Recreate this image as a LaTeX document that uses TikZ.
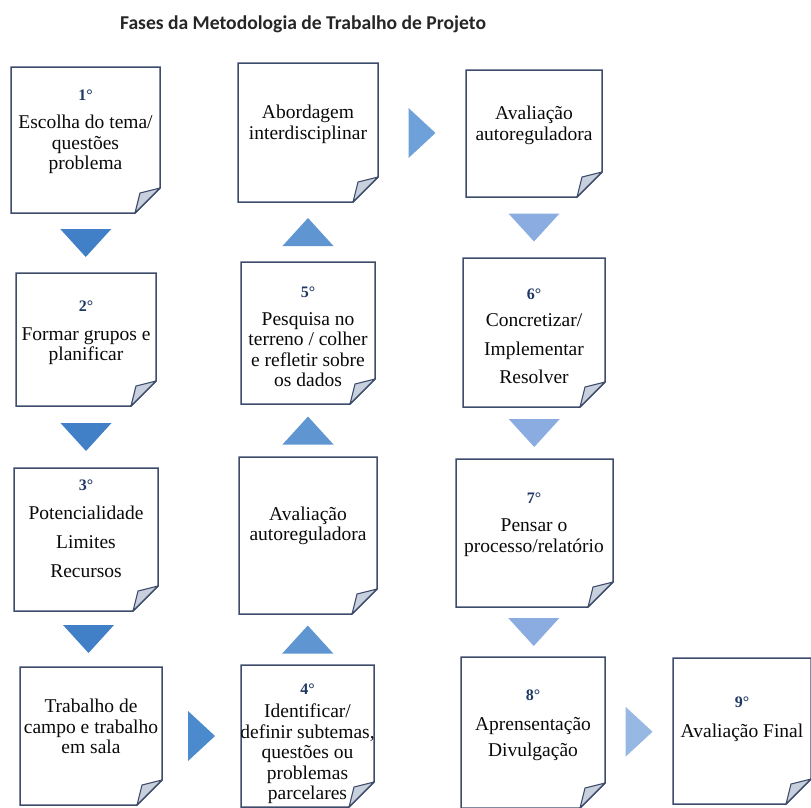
\documentclass[tikz,border=0pt]{standalone}
\usepackage{fontspec}
\setmainfont{Liberation Serif}
\newfontfamily\bodyfont{Liberation Serif}
\newfontfamily\titlefont{Carlito}
\usetikzlibrary{calc}
\definecolor{boxc}{RGB}{62,76,108}
\definecolor{foldc}{RGB}{200,208,222}
\definecolor{numc}{RGB}{31,56,100}
\definecolor{arrL}{RGB}{65,128,199}
\definecolor{arrM}{RGB}{95,150,210}
\definecolor{arrR}{RGB}{138,172,224}
\definecolor{arrA}{RGB}{110,160,218}
\definecolor{arrT}{RGB}{75,138,204}
\definecolor{arrF}{RGB}{152,184,228}
\definecolor{txtc}{RGB}{10,10,10}
\tikzset{
  boxshape/.style={inner sep=0pt, outer sep=0pt, draw=none},
  boxline/.style={draw=boxc, line width=1.5pt, fill=white, line join=miter},
  foldline/.style={draw=boxc, line width=1.1pt, fill=foldc, line join=round},
  txt/.style={align=center, text=txtc, inner sep=0pt, font=\bodyfont\fontsize{19.5}{20.5}\selectfont},
  ttl/.style={anchor=base, text=black!85, inner sep=0pt, font=\titlefont\fontsize{19.6}{22}\selectfont\bfseries}
}
\newcommand\nm[1]{{\bodyfont\fontsize{16}{20.5}\selectfont\bfseries\color{numc}#1}}
% name, left, top, right, bottom
\newcommand\docbox[5]{%
  \node[boxshape, minimum width={#4-#2}, minimum height={#5-#3}] (#1) at ({(#2+#4)/2},{(#3+#5)/2}) {};
  \draw[boxline] (#1.north west) -- (#1.north east) -- ([yshift=25pt]#1.south east) -- ([xshift=-25pt]#1.south east) -- (#1.south west) -- cycle;
  \filldraw[foldline] ([yshift=25pt]#1.south east) -- ([xshift=-20pt,yshift=20pt]#1.south east) -- ([xshift=-25pt]#1.south east) -- cycle;
}
\newcommand\downtri[4]{% name, upper box, lower box, colour
  \coordinate (#1) at ($(#2.south)!0.5!(#3.north)$);
  \fill[#4] ($(#1)+(-25.5,-14)$) -- ($(#1)+(25.5,-14)$) -- ($(#1)+(0,14)$) -- cycle;}
\newcommand\uptri[4]{% name, lower box, upper box, colour
  \coordinate (#1) at ($(#2.north)!0.5!(#3.south)$);
  \fill[#4] ($(#1)+(-25.5,14)$) -- ($(#1)+(25.5,14)$) -- ($(#1)+(0,-14)$) -- cycle;}
\newcommand\righttri[4]{% name, left box, right box, colour
  \coordinate (#1) at ($(#2.east)!0.5!(#3.west)$);
  \fill[#4] ($(#1)+(-13.5,-25)$) -- ($(#1)+(-13.5,25)$) -- ($(#1)+(13.5,0)$) -- cycle;}
\begin{document}
\begin{tikzpicture}[x=1pt,y=-1pt]
\fill[white] (0,0) rectangle (811,807);
\useasboundingbox (0,0) rectangle (811,807);

\node[ttl] (title) at (303,29) {Fases da Metodologia de Trabalho de Projeto};

% boxes
\docbox{b1}{11}{67}{160}{213}
\docbox{b2}{16}{273}{156}{406}
\docbox{b3}{14}{468}{158}{611}
\docbox{bT}{20}{667}{162}{805}
\docbox{b4}{241}{665}{374}{807}
\docbox{bAm}{239}{457}{377}{614}
\docbox{b5}{241}{262}{375}{404}
\docbox{bA}{238}{63}{378}{202}
\docbox{bAt}{466}{70}{602}{197}
\docbox{b6}{463}{258}{605}{407}
\docbox{b7}{456}{459}{613}{607}
\docbox{b8}{461}{657}{605}{808}
\docbox{b9}{673}{658}{811}{804}

% texts
\node[txt] (t1) at (85.5,132) {\nm{1°}\\[7.5pt]Escolha do tema/\\questões\\problema};
\node[txt] (t2) at (86,333) {\nm{2°}\\[8pt]Formar grupos e\\planificar};
\node[txt] (t3) at (86,528.5) {\nm{3°}\\[9pt]Potencialidade\\[8.5pt]Limites\\[8pt]Recursos};
\node[txt] (tT) at (91,726.5) {Trabalho de\\campo e trabalho\\em sala};
\node[txt] (t4) at (307.5,743.5) {\nm{4°}\\[3pt]Identificar/\\definir subtemas,\\questões ou\\problemas\\parcelares};
\node[txt] (tAm) at (308,526) {Avaliação\\autoreguladora};
\node[txt] (t5) at (308,337) {\nm{5°}\\[7pt]Pesquisa no\\terreno / colher\\e refletir sobre\\os dados};
\node[txt] (tA) at (308,124.5) {Abordagem\\interdisciplinar};
\node[txt] (tAt) at (534,125.5) {Avaliação\\autoreguladora};
\node[txt] (t6) at (534,336.5) {\nm{6°}\\[6.5pt]Concretizar/\\[8pt]Implementar\\[7.5pt]Resolver};
\node[txt] (t7) at (534,524.5) {\nm{7°}\\[7.5pt]Pensar o\\processo/relatório};
\node[txt] (t8) at (533,725) {\nm{8°}\\[9.5pt]Aprensentação\\[5.5pt]Divulgação};
\node[txt] (t9) at (742,719) {\nm{9°}\\[9.5pt]Avaliação Final};

% arrows
\downtri{a1}{b1}{b2}{arrL}
\downtri{a2}{b2}{b3}{arrL}
\downtri{a3}{b3}{bT}{arrL}
\righttri{a4}{bT}{b4}{arrT}
\uptri{a5}{b4}{bAm}{arrM}
\uptri{a6}{bAm}{b5}{arrM}
\uptri{a7}{b5}{bA}{arrM}
\righttri{a8}{bA}{bAt}{arrA}
\downtri{a9}{bAt}{b6}{arrR}
\downtri{a10}{b6}{b7}{arrR}
\downtri{a11}{b7}{b8}{arrR}
\righttri{a12}{b8}{b9}{arrF}
\end{tikzpicture}
\end{document}
